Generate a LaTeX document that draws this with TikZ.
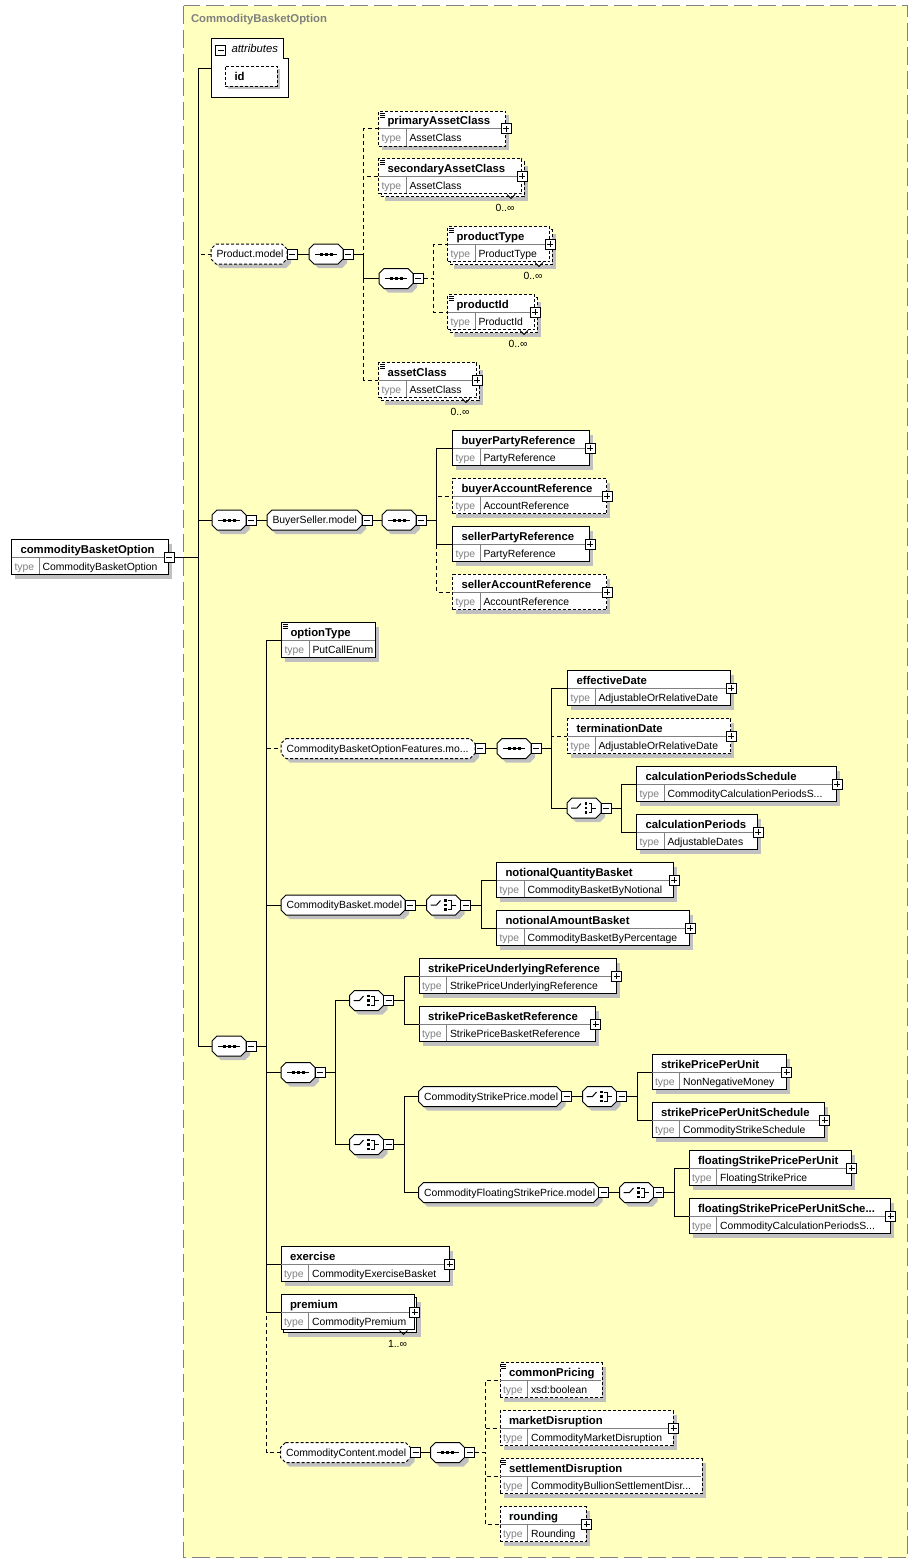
\documentclass[tikz,border=0pt]{standalone}
\usepackage{fontspec}
\setmainfont{Liberation Sans}

\definecolor{panelfill}{RGB}{255,255,192}
\definecolor{panelline}{RGB}{128,128,128}
\definecolor{shadowgray}{RGB}{192,192,192}
\definecolor{keygray}{RGB}{128,128,128}
\definecolor{rowgray}{RGB}{128,128,128}

\tikzset{every picture/.style={line width=0.75pt}}
\tikzset{
  elembox/.style={draw=black, fill=white, minimum height=26.25pt, inner sep=0pt, anchor=west},
  optbox/.style={dash pattern={on 2.25pt off 1.5pt}},
  hook/.style={inner sep=0pt, minimum height=15pt},
  rowline/.style={draw=rowgray},
  elemname/.style={anchor=base west, inner sep=0pt, font=\fontsize{8.5}{10}\selectfont\bfseries},
  typekey/.style={anchor=base west, inner sep=0pt, font=\fontsize{7.8}{9}\selectfont, text=keygray},
  typename/.style={anchor=base west, inner sep=0pt, font=\fontsize{7.8}{9}\selectfont},
  grplabel/.style={anchor=base west, inner sep=0pt, font=\fontsize{7.8}{9}\selectfont},
  occurs/.style={anchor=base, inner sep=0pt, font=\fontsize{7.8}{9}\selectfont},
  minusbox/.style={draw=black, fill=white, minimum size=7.5pt, inner sep=0pt,
    path picture={\draw (path picture bounding box.center) ++(-3,0) -- ++(6,0);}},
  plusbox/.style={draw=black, fill=white, minimum size=7.5pt, inner sep=0pt,
    path picture={\draw (path picture bounding box.center) ++(-3,0) -- ++(6,0);
      \draw (path picture bounding box.center) ++(0,-3) -- ++(0,6);}},
  conn/.style={draw=black},
  optconn/.style={draw=black, dash pattern={on 3pt off 2.25pt}},
}

% octagon outline: style, left x, middle y, width
\newcommand{\xsdoct}[4]{%
  \path[#1] (#2+5,#3-10) -- (#2+#4-5,#3-10) -- (#2+#4,#3-5) -- (#2+#4,#3+5) -- (#2+#4-5,#3+10) -- (#2+5,#3+10) -- (#2,#3+5) -- (#2,#3-5) -- cycle;}

% element body: name, left x, middle y, width, element, type
\newcommand{\xsdbody}[7][]{%
  \node[elembox,#1,minimum width=#5*0.75pt] (#2) at (#3,#4) {};
  \draw[rowline] (#3+0.5,#4) -- (#3+#5-0.5,#4) (#3+28,#4) -- (#3+28,#4+17);
  \node[elemname] (#2-n) at (#3+9,#4-4) {#6};
  \node[typekey] (#2-k) at (#3+3,#4+13) {type};
  \node[typename] (#2-v) at (#3+31,#4+13) {#7};}

\newcommand{\xsdelem}[7][]{%
  \fill[shadowgray] (#3+4,#4-13.5) rectangle (#3+#5+4,#4+21.5);
  \xsdbody[#1]{#2}{#3}{#4}{#5}{#6}{#7}}

% element that occurs more than once
\newcommand{\xsdmulti}[8][]{%
  \fill[shadowgray] (#3+7,#4-10.5) rectangle (#3+#5+7,#4+24.5);
  \draw[black,fill=white,#1] (#3+3,#4-14.5) rectangle (#3+#5+3,#4+20.5);
  \xsdbody[#1]{#2}{#3}{#4}{#5}{#6}{#7}
  \draw (#3+#5-14,#4+18.5) -- (#3+#5-10,#4+22.5) -- (#3+#5-6,#4+18.5);
  \node[occurs] (#2-o) at (#3+#5-16,#4+35) {#8};}

% annotation mark
\newcommand{\xsdnote}[1]{%
  \draw[line width=0.5pt] ([shift={(1.5,2.5)}]#1.north west) -- ++(5,0)
    ([shift={(1.5,4.5)}]#1.north west) -- ++(5,0) ([shift={(1.5,6.5)}]#1.north west) -- ++(5,0);}

% model group: style, name, left x, middle y, width, label
\newcommand{\xsdgroup}[6][]{%
  \xsdoct{fill=shadowgray}{#3+4}{#4+4}{#5}
  \xsdoct{draw=black,fill=white,#1}{#3}{#4}{#5}
  \node[hook,minimum width=#5*0.75pt] (#2) at (#3+#5/2,#4) {};
  \node[grplabel] (#2-l) at (#3+5,#4+3.5) {#6};
  \node[minusbox] (#2-m) at (#3+#5+5,#4) {};}

% sequence compositor: name, left x, middle y
\newcommand{\xsdseq}[3]{%
  \xsdoct{fill=shadowgray}{#2+4}{#3+4}{34}
  \xsdoct{draw=black,fill=white}{#2}{#3}{34}
  \node[hook,minimum width=25.5pt] (#1) at (#2+17,#3) {};
  \draw (#2+6,#3) -- (#2+28,#3);
  \foreach \d in {-5,0,5} \fill (#2+15.5+\d,#3-1.5) rectangle ++(3,3);
  \node[minusbox] (#1-m) at (#2+39,#3) {};}

% choice compositor: name, left x, middle y
\newcommand{\xsdchoice}[3]{%
  \xsdoct{fill=shadowgray}{#2+4}{#3+4}{34}
  \xsdoct{draw=black,fill=white}{#2}{#3}{34}
  \node[hook,minimum width=25.5pt] (#1) at (#2+17,#3) {};
  \draw (#2+4,#3) -- (#2+10,#3) -- (#2+14,#3-4.5);
  \foreach \d in {-4.5,0,4.5} \fill (#2+17.5,#3+\d-1.25) rectangle ++(2.5,2.5);
  \draw (#2+21.5,#3-4.5) -- (#2+24.5,#3-4.5) -- (#2+24.5,#3+4.5) -- (#2+21.5,#3+4.5)
    (#2+24.5,#3) -- (#2+29,#3);
  \node[minusbox] (#1-m) at (#2+39,#3) {};}

\begin{document}
\begin{tikzpicture}[x=0.75pt,y=0.75pt,yscale=-1,xscale=1]
\useasboundingbox (0,0) rectangle (918,1563);
\fill[white] (0,0) rectangle (918,1563);

%Shape: Rectangle [complex type panel]
\draw[draw=panelline,fill=panelfill,dash pattern={on 13.5pt off 4.5pt}] (183.5,5.5) rectangle (907.5,1557.5);
% Text Node
\node[anchor=base west,inner sep=0pt,text=panelline,font=\fontsize{8.5}{10}\selectfont\bfseries] (paneltitle) at (190.5,22.5) {CommodityBasketOption};

%Shape: Element [root]
\xsdelem{cbo}{11}{557}{157}{commodityBasketOption}{CommodityBasketOption}
\node[minusbox] (cbo-m) at (cbo.east) {};

%Shape: Attributes
\draw[black,fill=white] (211.5,38.5) -- (283.5,38.5) -- (283.5,58.5) -- (288.5,58.5) -- (288.5,97.5) -- (211.5,97.5) -- cycle;
\node[hook,minimum width=57.75pt,minimum height=44.25pt] (attr) at (250,68) {};
\node[minusbox] (attr-m) at (220.5,50) {};
\node[anchor=base west,inner sep=0pt,font=\fontsize{8.5}{10}\selectfont\itshape] (attr-l) at (231,52) {attributes};
\fill[shadowgray] (227.5,69) rectangle (279.5,89);
\node[elembox,optbox,minimum width=39pt,minimum height=15pt] (attrid) at (224.5,76) {};
\node[elemname] (attrid-n) at (234,80) {id};

%Shape: Product.model
\xsdgroup[optbox]{pm}{211}{254}{76}{Product.model}
\xsdseq{pms}{309}{254}
\xsdelem[optbox]{pac}{378}{128.5}{127}{primaryAssetClass}{AssetClass}
\xsdmulti[optbox]{sac}{378}{176}{143}{secondaryAssetClass}{AssetClass}{0..∞}
\xsdseq{pis}{379}{278.5}
\xsdmulti[optbox]{ptype}{447}{244}{102}{productType}{ProductType}{0..∞}
\xsdmulti[optbox]{pid}{447}{312}{87}{productId}{ProductId}{0..∞}
\xsdmulti[optbox]{acl}{378}{380}{98}{assetClass}{AssetClass}{0..∞}
\foreach \e in {pac,sac,ptype,pid,acl} {\node[plusbox] (\e-p) at (\e.east) {}; \xsdnote{\e}}

%Shape: BuyerSeller.model
\xsdseq{bss}{212}{520}
\xsdgroup{bsm}{267}{520}{95}{BuyerSeller.model}
\xsdseq{bsq}{382}{520}
\xsdelem{bpr}{452}{448}{137}{buyerPartyReference}{PartyReference}
\xsdelem[optbox]{bar}{452}{496}{154}{buyerAccountReference}{AccountReference}
\xsdelem{spr}{452}{544}{137}{sellerPartyReference}{PartyReference}
\xsdelem[optbox]{sar}{452}{592}{154}{sellerAccountReference}{AccountReference}
\foreach \e in {bpr,bar,spr,sar} \node[plusbox] (\e-p) at (\e.east) {};

%Shape: main sequence
\xsdseq{ms}{212}{1046}
\xsdelem{otype}{281}{640}{94}{optionType}{PutCallEnum}
\xsdnote{otype}

%Shape: CommodityBasketOptionFeatures.model
\xsdgroup[optbox]{cbof}{281}{748.5}{194}{CommodityBasketOptionFeatures.mo...}
\xsdseq{cbofs}{497}{748.5}
\xsdelem{effd}{567}{688}{163}{effectiveDate}{AdjustableOrRelativeDate}
\xsdelem[optbox]{termd}{567}{736}{163}{terminationDate}{AdjustableOrRelativeDate}
\xsdchoice{cpc}{567}{808}
\xsdelem{cps}{636}{784}{200}{calculationPeriodsSchedule}{CommodityCalculationPeriodsS...}
\xsdelem{cpd}{636}{832}{121}{calculationPeriods}{AdjustableDates}
\foreach \e in {effd,termd,cps,cpd} \node[plusbox] (\e-p) at (\e.east) {};

%Shape: CommodityBasket.model
\xsdgroup{cbm}{281}{905}{124}{CommodityBasket.model}
\xsdchoice{cbc}{426.5}{905}
\xsdelem{nqb}{496}{880}{177}{notionalQuantityBasket}{CommodityBasketByNotional}
\xsdelem{nab}{496}{928}{193}{notionalAmountBasket}{CommodityBasketByPercentage}
\foreach \e in {nqb,nab} \node[plusbox] (\e-p) at (\e.east) {};

%Shape: strike price
\xsdseq{sps}{281}{1072.5}
\xsdchoice{spc1}{349.5}{1000.5}
\xsdelem{spur}{418.5}{976}{197}{strikePriceUnderlyingReference}{StrikePriceUnderlyingReference}
\xsdelem{spbr}{418.5}{1024}{176}{strikePriceBasketReference}{StrikePriceBasketReference}
\xsdchoice{spc2}{349.5}{1144.5}
\xsdgroup{csp}{418.5}{1096.5}{143}{CommodityStrikePrice.model}
\xsdchoice{cspc}{582.5}{1096.5}
\xsdelem{sppu}{651.5}{1072}{134}{strikePricePerUnit}{NonNegativeMoney}
\xsdelem{sppus}{651.5}{1120}{172}{strikePricePerUnitSchedule}{CommodityStrikeSchedule}
\xsdgroup{cfsp}{418.5}{1192.5}{180}{CommodityFloatingStrikePrice.model}
\xsdchoice{cfspc}{619.5}{1192.5}
\xsdelem{fspu}{688.5}{1168}{162}{floatingStrikePricePerUnit}{FloatingStrikePrice}
\xsdelem{fspus}{688.5}{1216}{201}{floatingStrikePricePerUnitSche...}{CommodityCalculationPeriodsS...}
\foreach \e in {spur,spbr,sppu,sppus,fspu,fspus} \node[plusbox] (\e-p) at (\e.east) {};

%Shape: exercise, premium
\xsdelem{exe}{280.5}{1264}{168}{exercise}{CommodityExerciseBasket}
\xsdmulti{prem}{280.5}{1312}{133}{premium}{CommodityPremium}{1..∞}
\foreach \e in {exe,prem} \node[plusbox] (\e-p) at (\e.east) {};

%Shape: CommodityContent.model
\xsdgroup[optbox]{ccm}{280.5}{1452.5}{130}{CommodityContent.model}
\xsdseq{ccs}{430.5}{1452.5}
\xsdelem[optbox]{cpr}{499.5}{1380}{102}{commonPricing}{xsd:boolean}
\xsdelem[optbox]{mdis}{499.5}{1428}{173}{marketDisruption}{CommodityMarketDisruption}
\xsdelem[optbox]{sdis}{499.5}{1476}{202}{settlementDisruption}{CommodityBullionSettlementDisr...}
\xsdelem[optbox]{rnd}{499.5}{1524}{86}{rounding}{Rounding}
\xsdnote{cpr}
\xsdnote{sdis}
\foreach \e in {mdis,rnd} \node[plusbox] (\e-p) at (\e.east) {};

%Straight Lines [connectors]
\draw[optconn] (cbo-m.east) -- ++(24,0) |- (pm.west);
\foreach \c in {attr,bss,ms} \draw[conn] (cbo-m.east) -- ++(24,0) |- (\c.west);
\draw[conn] (pm-m.east) -- (pms.west);
\foreach \c in {pac,sac,acl} \draw[optconn] (pms-m.east) -- ++(10,0) |- (\c.west);
\draw[conn] (pms-m.east) -- ++(10,0) |- (pis.west);
\foreach \c in {ptype,pid} \draw[optconn] (pis-m.east) -- ++(10,0) |- (\c.west);
\draw[conn] (bss-m.east) -- (bsm.west);
\draw[conn] (bsm-m.east) -- (bsq.west);
\foreach \c in {bar,sar} \draw[optconn] (bsq-m.east) -- ++(10,0) |- (\c.west);
\foreach \c in {bpr,spr} \draw[conn] (bsq-m.east) -- ++(10,0) |- (\c.west);
\foreach \c in {cbof,ccm} \draw[optconn] (ms-m.east) -- ++(10,0) |- (\c.west);
\foreach \c in {otype,cbm,sps,exe,prem} \draw[conn] (ms-m.east) -- ++(10,0) |- (\c.west);
\draw[conn] (cbof-m.east) -- (cbofs.west);
\draw[optconn] (cbofs-m.east) -- ++(10,0) |- (termd.west);
\foreach \c in {effd,cpc} \draw[conn] (cbofs-m.east) -- ++(10,0) |- (\c.west);
\foreach \c in {cps,cpd} \draw[conn] (cpc-m.east) -- ++(10,0) |- (\c.west);
\draw[conn] (cbm-m.east) -- (cbc.west);
\foreach \c in {nqb,nab} \draw[conn] (cbc-m.east) -- ++(10,0) |- (\c.west);
\foreach \c in {spc1,spc2} \draw[conn] (sps-m.east) -- ++(10,0) |- (\c.west);
\foreach \c in {spur,spbr} \draw[conn] (spc1-m.east) -- ++(10,0) |- (\c.west);
\foreach \c in {csp,cfsp} \draw[conn] (spc2-m.east) -- ++(10,0) |- (\c.west);
\draw[conn] (csp-m.east) -- (cspc.west);
\foreach \c in {sppu,sppus} \draw[conn] (cspc-m.east) -- ++(10,0) |- (\c.west);
\draw[conn] (cfsp-m.east) -- (cfspc.west);
\foreach \c in {fspu,fspus} \draw[conn] (cfspc-m.east) -- ++(10,0) |- (\c.west);
\draw[conn] (ccm-m.east) -- (ccs.west);
\foreach \c in {cpr,mdis,sdis,rnd} \draw[optconn] (ccs-m.east) -- ++(10,0) |- (\c.west);
\end{tikzpicture}
\end{document}
